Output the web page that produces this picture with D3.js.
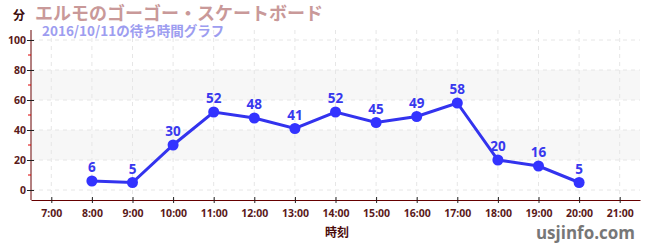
<!DOCTYPE html>
<html>
<head>
<meta charset="utf-8">
<script src="https://cdn.jsdelivr.net/npm/d3@7"></script>
<style>
body{margin:0;background:#fff;}
svg{font-family:"Noto Sans CJK JP","Noto Sans",sans-serif;}
</style>
</head>
<body>
<div class="chart"></div>
<script>
const hours = [8,9,10,11,12,13,14,15,16,17,18,19,20];
const waits = [6,5,30,52,48,41,52,45,49,58,20,16,5];
const xTicks = [7,8,9,10,11,12,13,14,15,16,17,18,19,20,21];
const yTicks = [0,20,40,60,80,100];
const yMinor = [10,30,50,70,90];
const bands = [[20,40],[60,80]];

const svg_width = 650, svg_height = 250;
const margin = {top:30,right:10,bottom:50,left:31};
const numFont = '"Noto Sans","Open Sans",sans-serif';

const svg = d3.select('.chart').append('svg')
  .attr('width',svg_width).attr('height',svg_height);

const xScale = d3.scaleLinear().domain([6.5,21.5]).range([margin.left,640]);
const yScale = d3.scaleLinear().domain([0,100]).range([190,40]);
const plotTop = 30, plotBottom = 200;

// bands
svg.selectAll('.band').data(bands).enter().append('rect')
  .attr('x',margin.left+1).attr('width',640-margin.left-1)
  .attr('y',d=>yScale(d[1])).attr('height',d=>yScale(d[0])-yScale(d[1]))
  .style('fill','#f7f7f7');

// grid
svg.selectAll('.vgrid').data(xTicks).enter().append('line')
  .attr('x1',d=>xScale(d)).attr('x2',d=>xScale(d))
  .attr('y1',plotTop).attr('y2',plotBottom)
  .style('stroke','#e6e6e6').style('stroke-dasharray','4,4');
svg.selectAll('.hgrid').data(yTicks).enter().append('line')
  .attr('x1',margin.left).attr('x2',640)
  .attr('y1',d=>yScale(d)).attr('y2',d=>yScale(d))
  .style('stroke','#e6e6e6').style('stroke-dasharray','4,4');

// axes
const xAxis = d3.axisBottom(xScale).tickValues(xTicks)
  .tickFormat(d=>d+':00').tickSizeInner(3).tickSizeOuter(0);
const xAxisDraw = svg.append('g').attr('transform',`translate(0,${plotBottom})`).call(xAxis);
xAxisDraw.select('.domain').style('stroke','#660000');
xAxisDraw.selectAll('.tick line').attr('y1',-3).style('stroke','#222');
xAxisDraw.selectAll('text').attr('dy','1.05em')
  .style('font-size','10.5px').style('font-weight','bold').style('fill','#5a1a1a')
  .style('font-family',numFont);

const yAxis = d3.axisLeft(yScale).tickValues(yTicks).tickSizeInner(4).tickSizeOuter(0);
const yAxisDraw = svg.append('g').attr('transform',`translate(${margin.left},0)`).call(yAxis);
yAxisDraw.select('.domain').attr('d',`M0,${plotTop}V${plotBottom}`).style('stroke','#660000');
yAxisDraw.selectAll('.tick line').attr('x2',-4).attr('x1',3).style('stroke','#222');
yAxisDraw.selectAll('text').attr('x',-5)
  .style('font-size','10.5px').style('font-weight','bold').style('fill','#5a1a1a')
  .style('font-family',numFont);
svg.selectAll('.minor').data(yMinor).enter().append('line')
  .attr('x1',margin.left-3).attr('x2',margin.left)
  .attr('y1',d=>yScale(d)).attr('y2',d=>yScale(d))
  .style('stroke','#dd0000');

// line + points
const pts = hours.map((h,i)=>({h:h,v:waits[i]}));
const line = d3.line().x(d=>xScale(d.h)).y(d=>yScale(d.v));
svg.append('path').datum(pts).attr('d',line)
  .style('fill','none').style('stroke','#3333ee').style('stroke-width',3);
svg.selectAll('.pt').data(pts).enter().append('circle')
  .attr('cx',d=>xScale(d.h)).attr('cy',d=>yScale(d.v)).attr('r',5.5)
  .style('fill','#3333ff');
svg.selectAll('.lbl').data(pts).enter().append('text')
  .attr('x',d=>xScale(d.h)).attr('y',d=>yScale(d.v)-9)
  .attr('text-anchor','middle').text(d=>d.v)
  .style('font-size','13.5px').style('font-weight','bold').style('fill','#3838ee')
  .style('font-family',numFont);

// titles
svg.append('text').attr('x',13).attr('y',20).text('分')
  .style('font-size','12px').style('font-weight','bold').style('fill','#3a0a0a');
svg.append('text').attr('x',35).attr('y',20).text('エルモのゴーゴー・スケートボード')
  .style('font-size','18px').style('font-weight','bold').style('fill','#c99999');
svg.append('text').attr('x',42).attr('y',36).text('2016/10/11の待ち時間グラフ')
  .style('font-size','13.5px').style('font-weight','bold').style('fill','#9d9df0');
svg.append('text').attr('x',337).attr('y',237).attr('text-anchor','middle').text('時刻')
  .style('font-size','12px').style('font-weight','bold').style('fill','#4a0a0a');
svg.append('text').attr('x',635).attr('y',239).attr('text-anchor','end').text('usjinfo.com')
  .style('font-size','17px').style('font-weight','bold').style('fill','#777')
  .style('font-family','"Open Sans",sans-serif');
</script>
</body>
</html>
